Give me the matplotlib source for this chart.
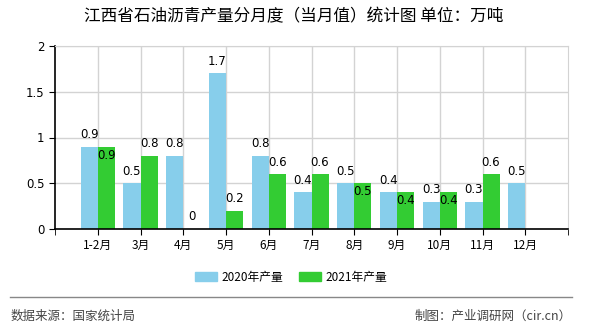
import numpy as np
import matplotlib.pyplot as plt
from matplotlib.patches import Patch

plt.rcParams['font.family'] = ['Noto Sans CJK SC', 'DejaVu Sans']

months = ['1-2月', '3月', '4月', '5月', '6月', '7月', '8月', '9月', '10月', '11月', '12月']
output_2020 = [0.9, 0.5, 0.8, 1.7, 0.8, 0.4, 0.5, 0.4, 0.3, 0.3, 0.5]
output_2021 = [0.9, 0.8, 0.0, 0.2, 0.6, 0.6, 0.5, 0.4, 0.4, 0.6, None]
y_ticks = [0, 0.5, 1, 1.5, 2]
y_tick_labels = ['0', '0.5', '1', '1.5', '2']

blue = '#87CEEB'
green = '#33CC33'

fig = plt.figure(figsize=(5.9, 3.3), dpi=100)
ax = fig.add_axes([55 / 590, 1 - 229 / 330, 513 / 590, 183 / 330])

x = np.arange(len(months))
w = 0.4
ax.bar(x - w / 2, output_2020, w, color=blue, zorder=2)
g_idx = [i for i, v in enumerate(output_2021) if v is not None]
g_val = [output_2021[i] for i in g_idx]
ax.bar(x[g_idx] + w / 2, g_val, w, color=green, zorder=2)

for i, v in enumerate(output_2020):
    ax.annotate('%g' % v, (x[i] - w / 2, v), xytext=(0, 4), textcoords='offset points',
                ha='center', va='bottom', fontsize=8.5, family='DejaVu Sans')
for i, v in zip(g_idx, g_val):
    # put label inside when it would collide with the 2020 label
    if abs(v - output_2020[i]) < 0.15:
        off, va = (-1.5, 'top')
    else:
        off, va = (4, 'bottom')
    ax.annotate('%g' % v, (x[i] + w / 2, v), xytext=(0, off), textcoords='offset points',
                ha='center', va=va, fontsize=8.5, family='DejaVu Sans', zorder=3)

ax.set_xlim(-1, len(months))
ax.set_ylim(0, 2)
ax.set_yticks(y_ticks)
ax.set_yticklabels(y_tick_labels, fontsize=8.5, family='DejaVu Sans')
ax.set_xticks(x)
ax.set_xticklabels(months, fontsize=8.5)
ax.set_xticks([-1, len(months)], minor=True)
ax.tick_params(axis='x', which='both', length=4, direction='out')
ax.tick_params(axis='y', length=4, direction='out')
ax.grid(True, color='#d3d3d3', linewidth=1, zorder=0)
ax.set_axisbelow(True)
for s in ['top', 'right']:
    ax.spines[s].set_color('#d3d3d3')
for s in ['left', 'bottom']:
    ax.spines[s].set_color('black')
    ax.spines[s].set_linewidth(1.2)

fig.text(294 / 590, 1 - 17 / 330, '江西省石油沥青产量分月度（当月值）统计图 单位：万吨',
         ha='center', va='center', fontsize=12)

handles = [Patch(color=blue, label='2020年产量'), Patch(color=green, label='2021年产量')]
fig.legend(handles=handles, loc='center', bbox_to_anchor=(291 / 590, 1 - 277 / 330), ncol=2,
           frameon=False, fontsize=8.5, handlelength=1.86, handleheight=0.76,
           columnspacing=1.36, handletextpad=0.34, borderpad=0, borderaxespad=0)

fig.add_artist(plt.Line2D([10 / 590, 572 / 590], [1 - 297 / 330] * 2, color='#888888', linewidth=1))
fig.text(11 / 590, 1 - 316 / 330, '数据来源：国家统计局', ha='left', va='center', fontsize=9, color='#444444')
fig.text(572 / 590, 1 - 316 / 330, '制图：产业调研网（cir.cn）', ha='right', va='center', fontsize=9, color='#444444')

fig.savefig('out.png', dpi=100)
